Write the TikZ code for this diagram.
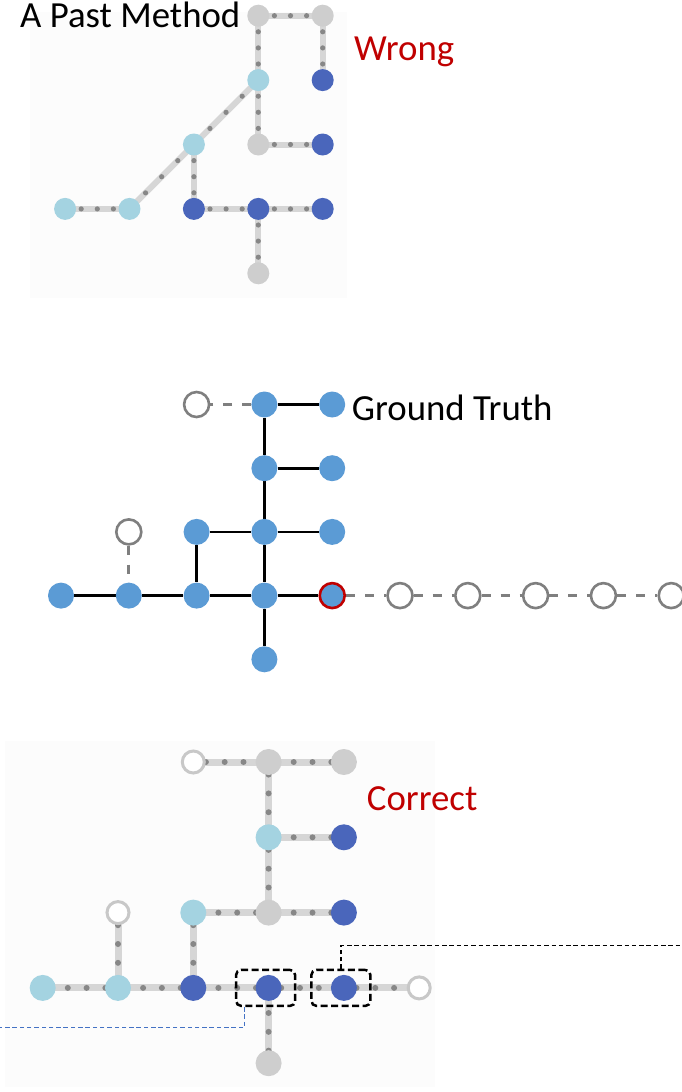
\documentclass[tikz,border=0pt]{standalone}
\usepackage{fontspec}
\setmainfont{Carlito}
\definecolor{lightb}{RGB}{164,211,225}
\definecolor{darkb}{RGB}{74,102,187}
\definecolor{nodegray}{RGB}{206,206,206}
\definecolor{band}{RGB}{214,214,214}
\definecolor{dotc}{RGB}{135,135,135}
\definecolor{panelbg}{RGB}{252,252,252}
\definecolor{opengray}{RGB}{200,200,200}
\definecolor{gtblue}{RGB}{91,155,213}
\definecolor{gtgray}{RGB}{127,127,127}
\definecolor{wred}{RGB}{192,0,0}
\definecolor{connblue}{RGB}{68,114,196}
\pgfdeclarelayer{panel}
\pgfdeclarelayer{edges}
\pgfsetlayers{panel,edges,main}
\begin{document}
\begin{tikzpicture}[x=1pt,y=-1pt,
  lbl/.style={anchor=base west,inner sep=0pt,font=\fontsize{36.8}{40}\selectfont},
  % small tree (top)
  tnode/.style={circle,inner sep=0pt,minimum size=22pt},
  tgray/.style={tnode,fill=nodegray},
  tlight/.style={tnode,fill=lightb},
  tdark/.style={tnode,fill=darkb},
  tband/.style={draw=band,line width=6pt},
  tdots/.style={draw=dotc,line width=5.2pt,line cap=round,dash pattern=on 0pt off 16.1pt},
  tdiag/.style={draw=dotc,line width=5.2pt,line cap=round,dash pattern=on 0pt off 22.8pt},
  % reference tree (middle)
  gnode/.style={circle,inner sep=0pt,minimum size=26pt,fill=gtblue},
  gopen/.style={circle,inner sep=0pt,minimum size=25pt,draw=gtgray,line width=2.6pt,fill=white},
  gred/.style={circle,inner sep=0pt,minimum size=25pt,draw=wred,line width=2.6pt,fill=gtblue},
  gsolid/.style={draw=black,line width=2.7pt},
  gdash/.style={draw=gtgray,line width=3pt,dash pattern=on 9pt off 10pt},
  % large tree (bottom)
  bnode/.style={circle,inner sep=0pt,minimum size=26pt},
  bgray/.style={bnode,fill=nodegray},
  blight/.style={bnode,fill=lightb},
  bdark/.style={bnode,fill=darkb},
  bopen/.style={circle,inner sep=0pt,minimum size=22pt,draw=opengray,line width=3pt,fill=white},
  bband/.style={draw=band,line width=7pt},
  bdots/.style={draw=dotc,line width=6pt,line cap=round,dash pattern=on 0pt off 18.8pt,dash phase=12.5pt},
  selbox/.style={draw=black,line width=2.5pt,rounded corners=5pt,dash pattern=on 7pt off 3.5pt,minimum width=59pt,minimum height=36pt,inner sep=0pt},
  blackconn/.style={draw=black,line width=1.2pt,dash pattern=on 4.5pt off 2.8pt},
  blueconn/.style={draw=connblue,line width=1.2pt,dash pattern=on 4.5pt off 2.8pt}
]
\useasboundingbox (0,0) rectangle (681,1092);

% page and panel backgrounds
\begin{pgfonlayer}{panel}
  \fill[white] (0,0) rectangle (681,1092);
  \fill[panelbg] (30,12) rectangle (347,298);
  \fill[panelbg] (5,741) rectangle (435,1087);
\end{pgfonlayer}

% ---------- top panel ----------
\node[tgray]  (t1)  at (258.3,15.7)  {};
\node[tgray]  (t2)  at (322.7,15.7)  {};
\node[tdark]  (t3)  at (322.7,80.1)  {};
\node[tlight] (t4)  at (258.3,80.1)  {};
\node[tgray]  (t5)  at (258.3,144.5) {};
\node[tdark]  (t6)  at (322.7,144.5) {};
\node[tlight] (t7)  at (193.9,144.5) {};
\node[tlight] (t8)  at (65.1,208.9)  {};
\node[tlight] (t9)  at (129.5,208.9) {};
\node[tdark]  (t10) at (193.9,208.9) {};
\node[tdark]  (t11) at (258.3,208.9) {};
\node[tdark]  (t12) at (322.7,208.9) {};
\node[tgray]  (t13) at (258.3,273.3) {};

\begin{pgfonlayer}{edges}
  \foreach \a/\b in {t1/t2,t2/t3,t1/t4,t4/t5,t5/t6,t4/t7,t7/t9,t8/t9,t7/t10,t10/t11,t11/t12,t11/t13}
    \draw[tband] (\a.center) -- (\b.center);
  \foreach \a/\b in {t1/t2,t2/t3,t1/t4,t4/t5,t5/t6,t7/t10,t8/t9,t10/t11,t11/t12,t11/t13}
    \draw[tdots] (\a.center) -- (\b.center);
  \foreach \a/\b in {t4/t7,t7/t9}
    \draw[tdiag] (\a.center) -- (\b.center);
\end{pgfonlayer}

\node[lbl] (title) at (20,27.7) {A Past Method};
\node[lbl,text=wred] (wrong) at (354,60) {Wrong};

% ---------- middle panel ----------
\node[gopen] (g0) at (196.6,404.5) {};
\node[gnode] (gA) at (264.4,404.5) {};
\node[gnode] (gB) at (332.2,404.5) {};
\node[gnode] (gC) at (264.4,468.2) {};
\node[gnode] (gD) at (332.2,468.2) {};
\node[gnode] (gE) at (196.6,531.9) {};
\node[gnode] (gF) at (264.4,531.9) {};
\node[gnode] (gG) at (332.2,531.9) {};
\node[gopen] (gH) at (128.8,531.9) {};
\node[gnode] (gI) at (61,595.6) {};
\node[gnode] (gJ) at (128.8,595.6) {};
\node[gnode] (gK) at (196.6,595.6) {};
\node[gnode] (gL) at (264.4,595.6) {};
\node[gred]  (gM) at (332.2,595.6) {};
\node[gnode] (gN) at (264.4,659.3) {};
\node[gopen] (o1) at (400,595.6) {};
\node[gopen] (o2) at (467.8,595.6) {};
\node[gopen] (o3) at (535.6,595.6) {};
\node[gopen] (o4) at (603.4,595.6) {};
\node[gopen] (o5) at (671.2,595.6) {};

\begin{pgfonlayer}{edges}
  \foreach \a/\b in {gA/gB,gA/gC,gC/gF,gF/gL,gL/gN,gC/gD,gE/gF,gF/gG,gE/gK,gI/gJ,gJ/gK,gK/gL,gL/gM}
    \draw[gsolid] (\a) -- (\b);
  \foreach \a/\b in {gA/g0,gH/gJ,gM/o1,o1/o2,o2/o3,o3/o4,o4/o5}
    \draw[gdash] (\a) -- (\b);
\end{pgfonlayer}

\node[lbl] (gt) at (351.7,420) {Ground Truth};

% ---------- bottom panel ----------
\node[bopen]  (b1)  at (193.3,762)   {};
\node[bgray]  (b2)  at (268.6,762)   {};
\node[bgray]  (b3)  at (343.9,762)   {};
\node[blight] (b4)  at (268.6,837.3) {};
\node[bdark]  (b5)  at (343.9,837.3) {};
\node[bopen]  (b6)  at (118,912.6)   {};
\node[blight] (b7)  at (193.3,912.6) {};
\node[bgray]  (b8)  at (268.6,912.6) {};
\node[bdark]  (b9)  at (343.9,912.6) {};
\node[blight] (b10) at (42.7,987.9)  {};
\node[blight] (b11) at (118,987.9)   {};
\node[bdark]  (b12) at (193.3,987.9) {};
\node[bdark]  (b13) at (268.6,987.9) {};
\node[bdark]  (b14) at (343.9,987.9) {};
\node[bopen]  (b15) at (419.2,987.9) {};
\node[bgray]  (b16) at (268.6,1063.2) {};

\begin{pgfonlayer}{edges}
  \foreach \a/\b in {b2/b1,b2/b3,b4/b2,b4/b5,b8/b4,b7/b8,b8/b9,b12/b7,b11/b6,b10/b11,b11/b12,b12/b13,b14/b13,b15/b14,b13/b16}{
    \draw[bband] (\a.center) -- (\b.center);
    \draw[bdots] (\a.center) -- (\b.center);
  }
\end{pgfonlayer}

\node[lbl,text=wred] (correct) at (366.7,810.7) {Correct};

% highlighted nodes and their leader lines
\node[selbox,xshift=-3pt] (box1) at (b13) {};
\node[selbox,xshift=-3pt] (box2) at (b14) {};
\coordinate (blackend) at (681,945.7);
\coordinate (blueend) at (0,1027.3);
\draw[blackconn] (box2.north) |- (blackend);
\draw[blueconn] ([xshift=10pt]box1.south west) |- (blueend);
\end{tikzpicture}
\end{document}
